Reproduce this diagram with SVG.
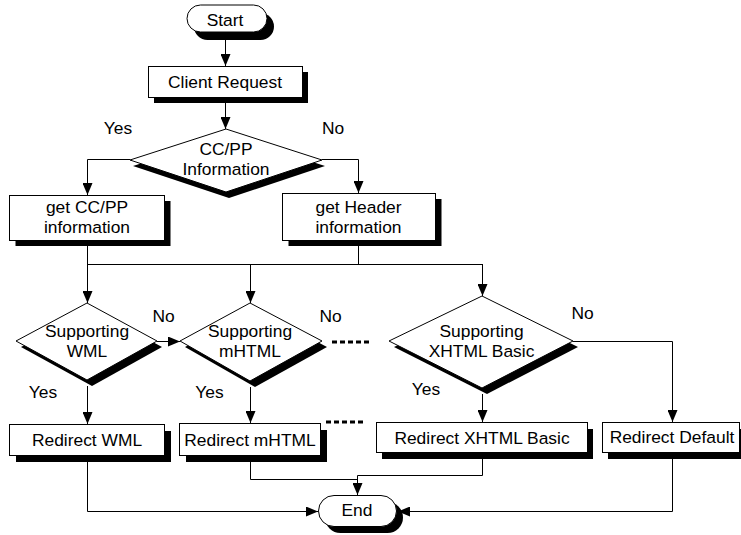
<svg xmlns="http://www.w3.org/2000/svg" width="741" height="535" viewBox="0 0 741 535">
<defs>
<style>
.shape{fill:#fff;stroke:#000;stroke-width:1}
.shadow{fill:#000;stroke:none}
.t{font-family:"Liberation Sans",Arial,sans-serif;font-size:17.4px;fill:#000;text-anchor:middle}
.c{fill:none;stroke:#000;stroke-width:1}
.a{marker-end:url(#arr)}
.dash{fill:none;stroke:#000;stroke-width:3;stroke-dasharray:5 3}
</style>
<marker id="arr" markerUnits="userSpaceOnUse" markerWidth="12" markerHeight="10" refX="12" refY="5" orient="auto">
<path d="M0,0 L12,5 L0,10 z" fill="#000"/>
</marker>
</defs>
<rect width="741" height="535" fill="#fff"/>

<g id="start">
<rect class="shadow" x="194" y="13" width="80" height="27" rx="13.5"/>
<rect class="shape" x="187" y="5" width="80" height="27" rx="13.5"/>
<text class="t" x="225" y="26">Start</text>
</g>

<g id="client-request">
<rect class="shadow" x="154" y="72" width="154" height="31"/>
<rect class="shape" x="148.5" y="66.5" width="154" height="31"/>
<text class="t" x="225" y="88">Client Request</text>
</g>

<g id="ccpp-decision">
<polygon class="shadow" points="229,135 325,166 229,198 133,166"/>
<polygon class="shape" points="226,129 322,160 226,192 130,160"/>
<text class="t" x="226" y="155">CC/PP</text>
<text class="t" x="226" y="175">Information</text>
</g>

<g id="get-ccpp">
<rect class="shadow" x="15.5" y="201" width="155" height="45"/>
<rect class="shape" x="9.5" y="195.5" width="155" height="45"/>
<text class="t" x="87" y="213">get CC/PP</text>
<text class="t" x="87" y="233">information</text>
</g>

<g id="get-header">
<rect class="shadow" x="288.5" y="199" width="153" height="47"/>
<rect class="shape" x="282.5" y="193.5" width="153" height="47"/>
<text class="t" x="358.5" y="213">get Header</text>
<text class="t" x="358.5" y="233">information</text>
</g>

<g id="wml-decision">
<polygon class="shadow" points="92,309 162,347 92,386 21,347"/>
<polygon class="shape" points="87,303 157,341 87,380 16,341"/>
<text class="t" x="87" y="337">Supporting</text>
<text class="t" x="87" y="357">WML</text>
</g>

<g id="mhtml-decision">
<polygon class="shadow" points="255,309 327,347 255,387 185,347"/>
<polygon class="shape" points="250,303 322,341 250,381 180,341"/>
<text class="t" x="250" y="337">Supporting</text>
<text class="t" x="250" y="357">mHTML</text>
</g>

<g id="xhtml-decision">
<polygon class="shadow" points="487,302 578,347 487,394 394,347"/>
<polygon class="shape" points="482,296 573,341 482,388 389,341"/>
<text class="t" x="481.5" y="337">Supporting</text>
<text class="t" x="481.5" y="357">XHTML Basic</text>
</g>

<g id="redirect-wml">
<rect class="shadow" x="16" y="431" width="155" height="31"/>
<rect class="shape" x="9.5" y="424.5" width="155" height="31"/>
<text class="t" x="87" y="446">Redirect WML</text>
</g>

<g id="redirect-mhtml">
<rect class="shadow" x="186" y="430" width="141" height="32"/>
<rect class="shape" x="179.5" y="423.5" width="141" height="32"/>
<text class="t" x="250" y="446">Redirect mHTML</text>
</g>

<g id="redirect-xhtml">
<rect class="shadow" x="382" y="429" width="211" height="30"/>
<rect class="shape" x="376.5" y="422.5" width="211" height="30"/>
<text class="t" x="482" y="443.5">Redirect XHTML Basic</text>
</g>

<g id="redirect-default">
<rect class="shadow" x="608" y="429" width="140" height="30"/>
<rect class="shape" x="602.5" y="422.5" width="137" height="30"/>
<text class="t" x="672" y="443">Redirect Default</text>
</g>

<g id="end">
<rect class="shadow" x="325" y="502" width="78" height="31" rx="15.5"/>
<rect class="shape" x="318.5" y="495.5" width="78" height="31" rx="15.5"/>
<text class="t" x="357" y="516">End</text>
</g>

<g id="connectors">
<path class="c a" d="M225.5,40 V66"/>
<path class="c a" d="M225.5,103 V129"/>
<path class="c a" d="M130,159.5 H87.5 V195"/>
<path class="c a" d="M322,159.5 H358.5 V193"/>
<path class="c" d="M87.5,246 V264.5 H482.5 M358.5,246 V264.5"/>
<path class="c a" d="M87.5,264 V303"/>
<path class="c a" d="M250.5,264 V303"/>
<path class="c a" d="M482.5,264 V296"/>
<path class="c a" d="M157,341.5 H180"/>
<path class="c a" d="M87.5,386 V424"/>
<path class="c a" d="M250.5,387 V423"/>
<path class="c a" d="M482.5,394 V422"/>
<path class="c a" d="M573,341.5 H672.5 V422"/>
<path class="c a" d="M87.5,462 V511.5 H318"/>
<path class="c" d="M250.5,462 V479.5 H357.5"/>
<path class="c a" d="M482.5,459 V475.5 H357.5 V495"/>
<path class="c a" d="M672.5,459 V511.5 H398"/>
<path class="dash" d="M332,342 H369"/>
<path class="dash" d="M326,422 H363"/>
</g>

<g id="labels">
<text class="t" x="118" y="133.5">Yes</text>
<text class="t" x="333" y="133.5">No</text>
<text class="t" x="163.5" y="322">No</text>
<text class="t" x="330.5" y="322">No</text>
<text class="t" x="582.5" y="319">No</text>
<text class="t" x="43" y="398">Yes</text>
<text class="t" x="209.5" y="398">Yes</text>
<text class="t" x="426" y="395">Yes</text>
</g>
</svg>
